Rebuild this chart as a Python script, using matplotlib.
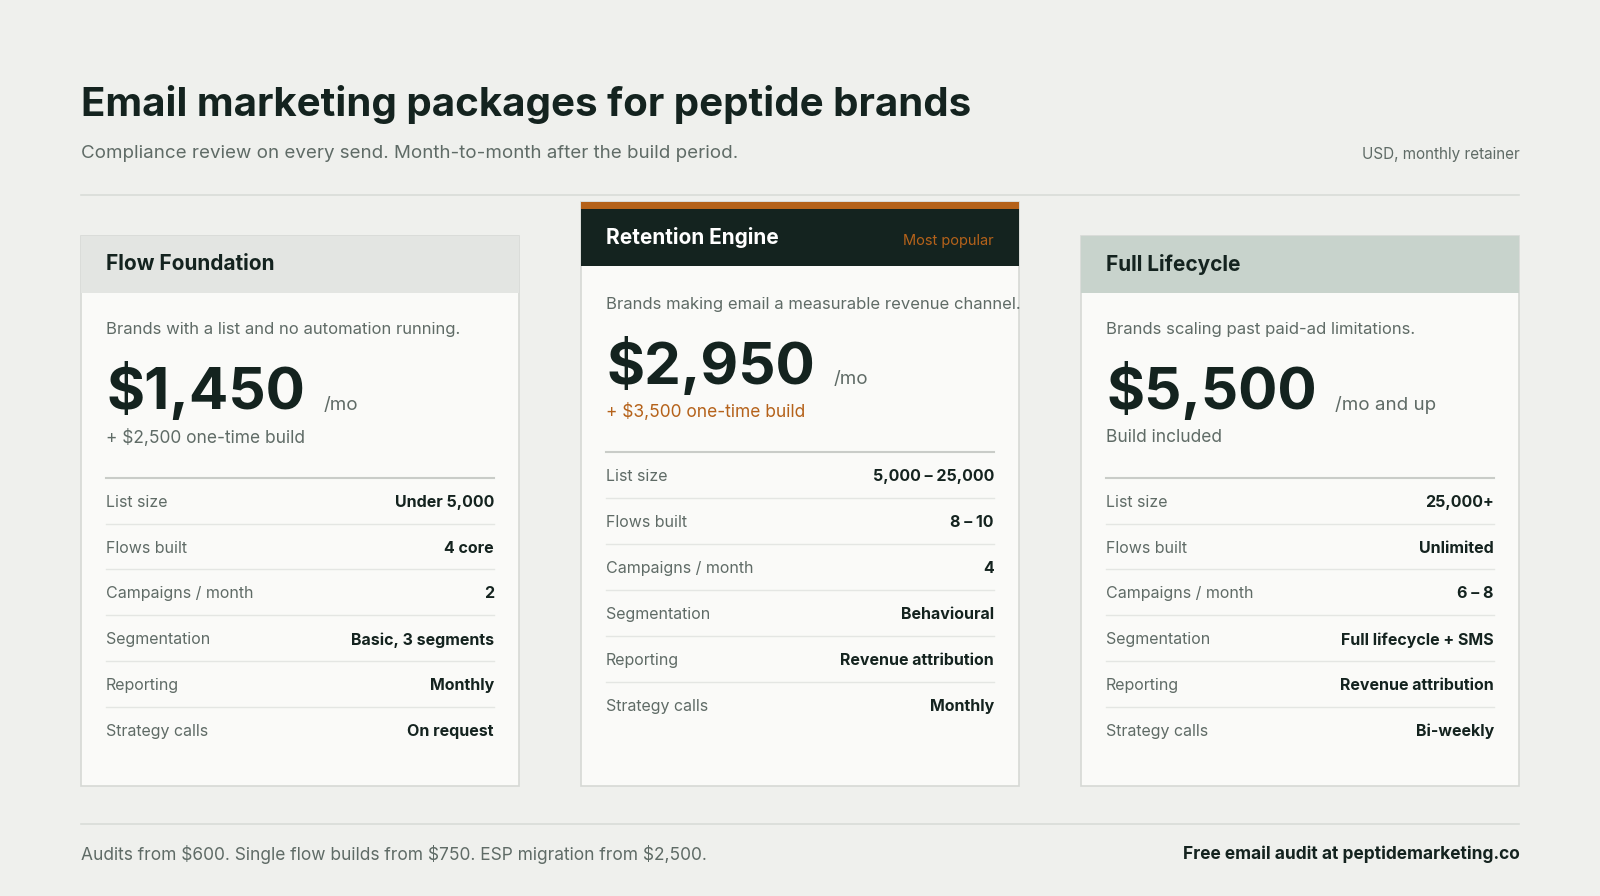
import matplotlib.pyplot as plt
from matplotlib.patches import Rectangle

plt.rcParams['font.family'] = ['Inter', 'DejaVu Sans']

tiers = ["Flow Foundation", "Retention Engine", "Full Lifecycle"]
blurbs = ["Brands with a list and no automation running.",
          "Brands making email a measurable revenue channel.",
          "Brands scaling past paid-ad limitations."]
prices = ["$1,450", "$2,950", "$5,500"]
units = ["/mo", "/mo", "/mo and up"]
builds = ["+ $2,500 one-time build", "+ $3,500 one-time build", "Build included"]
row_labels = ["List size", "Flows built", "Campaigns / month", "Segmentation", "Reporting", "Strategy calls"]
row_values = [
    ["Under 5,000", "4 core", "2", "Basic, 3 segments", "Monthly", "On request"],
    ["5,000 – 25,000", "8 – 10", "4", "Behavioural", "Revenue attribution", "Monthly"],
    ["25,000+", "Unlimited", "6 – 8", "Full lifecycle + SMS", "Revenue attribution", "Bi-weekly"],
]

BG = "#eff0ed"
CARD = "#fafaf8"
DARK = "#14231f"
MUTED = "#5f6b66"
ORANGE = "#b5621a"
LINE = "#d9dcd8"

fig = plt.figure(figsize=(16, 8.96), dpi=100, facecolor=BG)
ax = fig.add_axes([0, 0, 1, 1])
ax.set_xlim(0, 1568)
ax.set_ylim(878, 0)
ax.axis("off")

ax.text(79, 102, "Email marketing packages for peptide brands", fontsize=29, weight="bold",
        color=DARK, va="center")
ax.text(79, 150, "Compliance review on every send. Month-to-month after the build period.",
        fontsize=13.5, color=MUTED, va="center")
ax.text(1489, 151, "USD, monthly retainer", fontsize=11, color=MUTED, va="center", ha="right")
ax.plot([79, 1489], [191, 191], color=LINE, lw=1.2)
ax.plot([79, 1489], [807, 807], color=LINE, lw=1.2)
ax.text(79, 837, "Audits from $600. Single flow builds from $750. ESP migration from $2,500.",
        fontsize=12.5, color=MUTED, va="center")
ax.text(1489, 837, "Free email audit at peptidemarketing.co", fontsize=12.5, weight="bold",
        color=DARK, va="center", ha="right")

for i, name in enumerate(tiers):
    x0 = 79 + i * 490
    x1 = x0 + 430
    mid = i == 1
    top = 198 if mid else 231
    hbot = 261 if mid else 287
    ax.add_patch(Rectangle((x0, top), 430, 770 - top, facecolor=CARD, edgecolor="#d6d9d5", lw=1.2))
    hcol = [ "#e3e5e2", DARK, "#c8d3cc"][i]
    ax.add_patch(Rectangle((x0, top), 430, hbot - top, facecolor=hcol, edgecolor="none"))
    if mid:
        ax.add_patch(Rectangle((x0, top), 430, 7, facecolor=ORANGE, edgecolor="none"))
        ax.text(x1 - 25, 236, "Most popular", fontsize=10.5, color=ORANGE, va="center", ha="right")
    ax.text(x0 + 25, (top + hbot) / 2 + (3 if mid else 0), name, fontsize=15, weight="bold",
            color="white" if mid else DARK, va="center")
    off = -25 if mid else 0
    ax.text(x0 + 25, 323 + off, blurbs[i], fontsize=12, color=MUTED, va="center")
    pt = ax.text(x0 + 25, 384 + off, prices[i], fontsize=42, weight="bold", color=DARK, va="center")
    fig.canvas.draw()
    bb = pt.get_window_extent().transformed(ax.transData.inverted())
    ax.text(bb.x1 + 18, 397 + off, units[i], fontsize=13.5, color=MUTED, va="center")
    ax.text(x0 + 25, 429 + off, builds[i], fontsize=12.5, color=ORANGE if mid else MUTED, va="center")
    ax.plot([x0 + 25, x1 - 25], [468 + off, 468 + off], color="#c9ccc8", lw=1.5)
    for j, lab in enumerate(row_labels):
        y = 492 + off + j * 45
        ax.text(x0 + 25, y, lab, fontsize=11.5, color=MUTED, va="center")
        ax.text(x1 - 25, y, row_values[i][j], fontsize=11.5, weight="bold", color=DARK,
                va="center", ha="right")
        if j < len(row_labels) - 1:
            ax.plot([x0 + 25, x1 - 25], [y + 21, y + 21], color="#e4e6e3", lw=1)

fig.savefig("out.png", dpi=100, facecolor=BG)
